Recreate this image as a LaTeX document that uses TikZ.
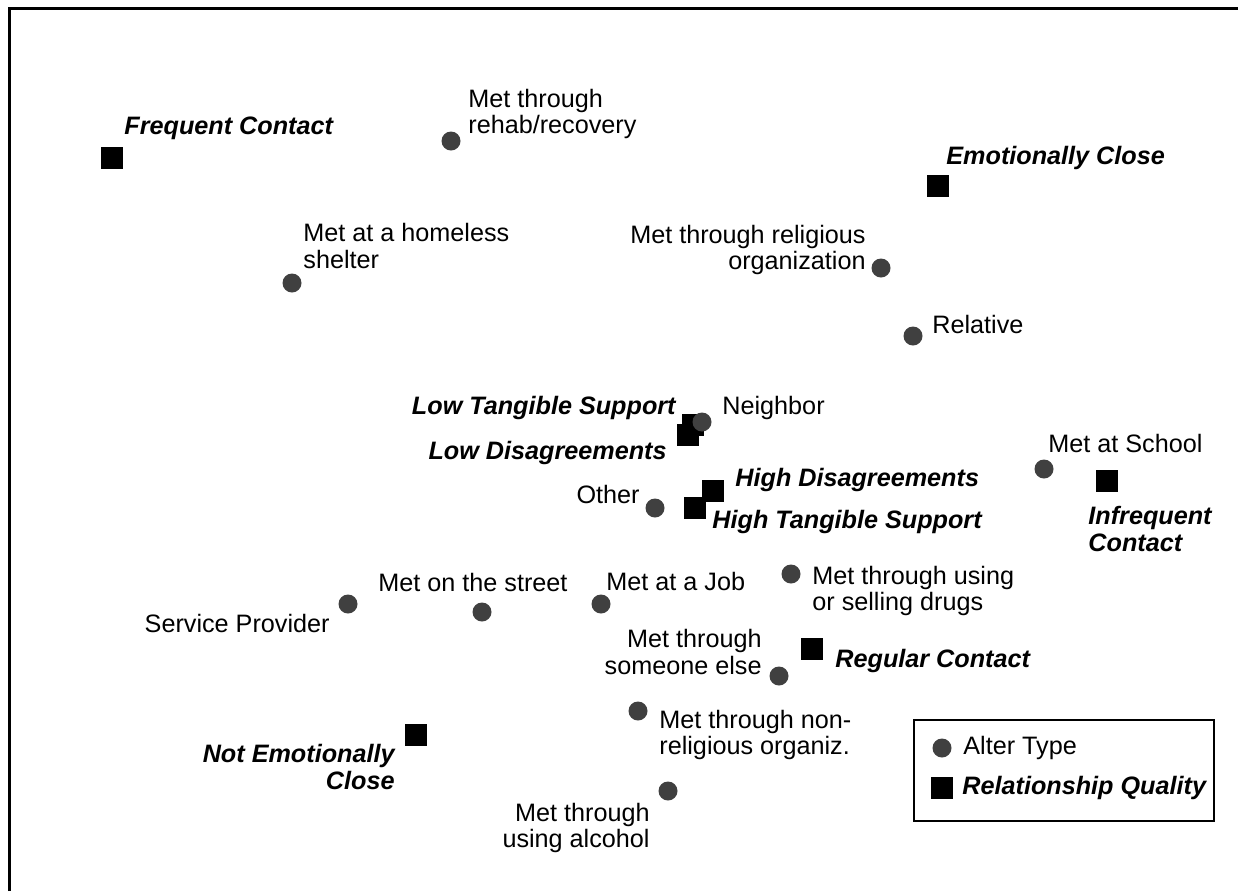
\documentclass[tikz,border=0pt]{standalone}
\usepackage{fontspec}
\setmainfont{Liberation Sans}
\usetikzlibrary{positioning}
\tikzstyle{alter} = [circle, fill=black!75, minimum size=9.5pt, inner sep=0pt]
\tikzstyle{quality} = [rectangle, fill=black, minimum size=11pt, inner sep=0pt]
\tikzstyle{lab} = [inner sep=0pt, font=\fontsize{12.6}{13.3}\selectfont]
\tikzstyle{qlab} = [lab, font=\fontsize{12.6}{13.3}\selectfont\bfseries\itshape]

\begin{document}
\begin{tikzpicture}[x=0.5pt, y=-0.5pt]
 \useasboundingbox (0,0) rectangle (1238,891);
 % frame
 \draw[line width=1.5pt] (9,891) -- (9,8) -- (1238,8);

 % relationship quality
 \node (fc) [quality] at (112,158) {};
 \node (ec) [quality] at (938,186) {};
 \node (lts) [quality] at (693,425) {};
 \node (ld) [quality] at (688,435) {};
 \node (hd) [quality] at (713,491) {};
 \node (hts) [quality] at (695,508) {};
 \node (ic) [quality] at (1107,481) {};
 \node (rc) [quality] at (812,649) {};
 \node (nec) [quality] at (416,735) {};

 \node (fcl) [qlab, anchor=west] at (124,128) {Frequent Contact};
 \node (ecl) [qlab, anchor=west] at (946,158) {Emotionally Close};
 \node (ltsl) [qlab, anchor=east] at (676,408) {Low Tangible Support};
 \node (ldl) [qlab, anchor=east] at (667,453) {Low Disagreements};
 \node (hdl) [qlab, anchor=west] at (735,480) {High Disagreements};
 \node (htsl) [qlab, anchor=west] at (712,522) {High Tangible Support};
 \node (icl) [qlab, anchor=west, align=left] at (1088,529) {Infrequent\\Contact};
 \node (rcl) [qlab, anchor=west] at (835,661) {Regular Contact};
 \node (necl) [qlab, anchor=east, align=right] at (395,767) {Not Emotionally\\Close};

 % alter types
 \node (rehab) [alter] at (451,141) {};
 \node (shelter) [alter] at (292,283) {};
 \node (relig) [alter] at (881,268) {};
 \node (rel) [alter] at (913,336) {};
 \node (nb) [alter] at (702,422) {};
 \node (school) [alter] at (1044,469) {};
 \node (other) [alter] at (655,508) {};
 \node (drugs) [alter] at (791,574) {};
 \node (job) [alter] at (601,604) {};
 \node (street) [alter] at (482,612) {};
 \node (sp) [alter] at (348,604) {};
 \node (else) [alter] at (779,676) {};
 \node (nonrel) [alter] at (638,711) {};
 \node (alc) [alter] at (668,791) {};

 \node (rehabl) [lab, anchor=west, align=left] at (468,114) {Met through\\rehab/recovery};
 \node (shelterl) [lab, anchor=west, align=left] at (303,246) {Met at a homeless\\shelter};
 \node (religl) [lab, anchor=east, align=right] at (866,250) {Met through religious\\organization};
 \node (rell) [lab, anchor=west] at (932,324) {Relative};
 \node (nbl) [lab, anchor=west] at (722,408) {Neighbor};
 \node (schooll) [lab, anchor=west] at (1048,443) {Met at School};
 \node (otherl) [lab, anchor=east] at (640,494) {Other};
 \node (drugsl) [lab, anchor=west, align=left] at (812,591) {Met through using\\or selling drugs};
 \node (jobl) [lab, anchor=west] at (606,581) {Met at a Job};
 \node (streetl) [lab, anchor=west] at (378,582) {Met on the street};
 \node (spl) [lab, anchor=east] at (330,623) {Service Provider};
 \node (elsel) [lab, anchor=east, align=right] at (762,652) {Met through\\someone else};
 \node (nonrell) [lab, anchor=west, align=left] at (659,735) {Met through non-\\religious organiz.};
 \node (alcl) [lab, anchor=east, align=right] at (650,828) {Met through\\using alcohol};

 % legend
 \draw[line width=0.75pt] (914,720) rectangle (1214,821);
 \node (leg1) [alter] at (942,748) {};
 \node (leg2) [quality] at (942,788) {};
 \node (leg1l) [lab, anchor=west] at (963,748) {Alter Type};
 \node (leg2l) [qlab, anchor=west] at (962,788) {Relationship Quality};
\end{tikzpicture}
\end{document}
